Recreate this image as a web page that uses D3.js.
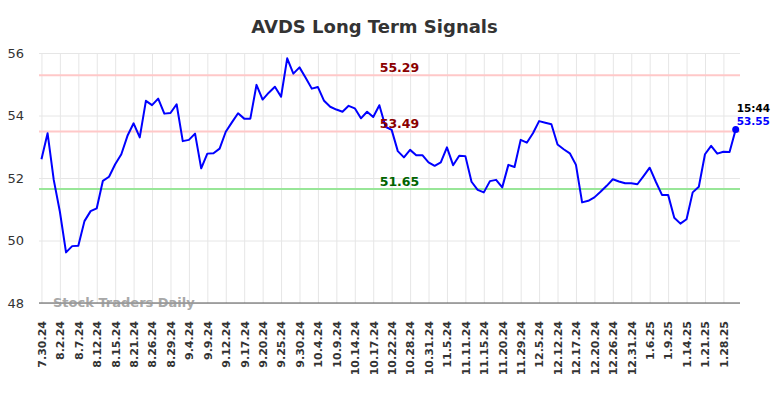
<!DOCTYPE html>
<html>
<head>
<meta charset="utf-8">
<script src="https://cdn.jsdelivr.net/npm/d3@7"></script>
<style>
  body { margin: 0; background: #fff; }
  svg { display: block; font-family: "DejaVu Sans", sans-serif; }
</style>
</head>
<body>
<svg id="chart" width="784" height="398"></svg>
<script>
// closing values, one per trading session
const prices = [
  52.60, 53.43, 51.94, 50.92, 49.62, 49.82, 49.83, 50.62, 50.94, 51.03,
  51.91, 52.04, 52.44, 52.76, 53.35, 53.75, 53.30, 54.47, 54.33, 54.54,
  54.06, 54.08, 54.36, 53.18, 53.22, 53.42, 52.31, 52.78, 52.79, 52.94,
  53.48, 53.78, 54.07, 53.90, 53.90, 54.98, 54.51, 54.73, 54.92, 54.60,
  55.83, 55.34, 55.54, 55.21, 54.86, 54.91, 54.47, 54.28, 54.19, 54.12,
  54.31, 54.23, 53.91, 54.12, 53.95, 54.33, 53.64, 53.54, 52.86, 52.66,
  52.90, 52.73, 52.73, 52.50, 52.39, 52.50, 52.98, 52.41, 52.71, 52.70,
  51.88, 51.62, 51.54, 51.90, 51.94, 51.70, 52.42, 52.35, 53.22, 53.13,
  53.43, 53.82, 53.77, 53.72, 53.07, 52.92, 52.79, 52.42, 51.22, 51.27,
  51.38, 51.56, 51.75, 51.96, 51.89, 51.83, 51.83, 51.80, 52.06, 52.33,
  51.88, 51.46, 51.46, 50.73, 50.54, 50.68, 51.54, 51.72, 52.76, 53.03,
  52.78, 52.84, 52.83, 53.55
];

// a date label every 3rd session
const dateLabels = [
  "7.30.24", "8.2.24", "8.7.24", "8.12.24", "8.15.24", "8.21.24", "8.26.24",
  "8.29.24", "9.4.24", "9.9.24", "9.12.24", "9.17.24", "9.20.24", "9.25.24",
  "9.30.24", "10.4.24", "10.9.24", "10.14.24", "10.17.24", "10.22.24",
  "10.28.24", "10.31.24", "11.5.24", "11.11.24", "11.15.24", "11.20.24",
  "11.29.24", "12.5.24", "12.12.24", "12.17.24", "12.20.24", "12.26.24",
  "12.31.24", "1.6.25", "1.9.25", "1.14.25", "1.21.25", "1.28.25"
];
const labelStep = 3;

const yTicks = [48, 50, 52, 54, 56];

const signalLevels = [55.29, 53.49, 51.65];
const signalKinds = ["high", "high", "low"];

const lastTime = "15:44";

const svg = d3.select("#chart");
const plotLeft = 39, plotRight = 740, plotTop = 53, plotBottom = 303;

const x = d3.scaleLinear().domain([-0.4, prices.length - 0.3]).range([plotLeft, plotRight]);
const y = d3.scaleLinear().domain([48, 56]).range([plotBottom, plotTop]);

// title
svg.append("text")
  .attr("x", 374.5).attr("y", 33)
  .attr("text-anchor", "middle")
  .attr("font-size", 18).attr("font-weight", "bold")
  .attr("fill", "#333")
  .text("AVDS Long Term Signals");

// horizontal grid + y labels
const yAxis = d3.axisLeft(y).tickValues(yTicks).tickSize(-(plotRight - plotLeft)).tickPadding(15);
const gy = svg.append("g").attr("transform", `translate(${plotLeft},0)`).call(yAxis);
gy.select(".domain").remove();
gy.selectAll(".tick line").attr("stroke", "#e6e6e6");
gy.selectAll(".tick text")
  .attr("font-size", 13).attr("fill", "#333")
  .attr("font-family", "DejaVu Sans, sans-serif");

// vertical grid + rotated date labels
const tickIdx = dateLabels.map((d, i) => i * labelStep);
const xAxis = d3.axisBottom(x).tickValues(tickIdx)
  .tickFormat((d, i) => dateLabels[i])
  .tickSize(-(plotBottom - plotTop)).tickPadding(0);
const gx = svg.append("g").attr("transform", `translate(0,${plotBottom})`).call(xAxis);
gx.select(".domain").remove();
gx.selectAll(".tick line").attr("stroke", "#e6e6e6");
gx.selectAll(".tick text")
  .attr("font-size", 11).attr("font-weight", "bold").attr("fill", "#333")
  .attr("font-family", "DejaVu Sans, sans-serif")
  .attr("text-anchor", "end")
  .attr("transform", "rotate(-90)")
  .attr("x", -18).attr("y", 0).attr("dy", "0.35em");

// bottom axis line
svg.append("line")
  .attr("x1", plotLeft).attr("x2", plotRight)
  .attr("y1", plotBottom).attr("y2", plotBottom)
  .attr("stroke", "#555").attr("stroke-width", 1.2);

// watermark
svg.append("text")
  .attr("x", 53).attr("y", 307)
  .attr("font-size", 13).attr("font-weight", "bold")
  .attr("fill", "#999").attr("opacity", 0.85)
  .text("Stock Traders Daily");

// signal levels
const levelLine = { high: "#ffc8c8", low: "#98e698" };
const levelText = { high: "#8b0000", low: "#006400" };
signalLevels.forEach((v, i) => {
  const k = signalKinds[i];
  svg.append("line")
    .attr("x1", plotLeft).attr("x2", plotRight)
    .attr("y1", y(v)).attr("y2", y(v))
    .attr("stroke", levelLine[k]).attr("stroke-width", 2);
});

// price line
const line = d3.line().x((d, i) => x(i)).y(d => y(d));
svg.append("path")
  .datum(prices)
  .attr("fill", "none")
  .attr("stroke", "#0000ff")
  .attr("stroke-width", 2)
  .attr("stroke-linejoin", "round")
  .attr("d", line);

// level labels drawn over the line
signalLevels.forEach((v, i) => {
  const k = signalKinds[i];
  svg.append("text")
    .attr("x", 399.5).attr("y", y(v) - 3)
    .attr("text-anchor", "middle")
    .attr("font-size", 12.5).attr("font-weight", "bold")
    .attr("fill", levelText[k])
    .text(v.toFixed(2));
});

// last point marker + labels
const lastI = prices.length - 1;
const last = prices[lastI];
svg.append("circle")
  .attr("cx", x(lastI)).attr("cy", y(last))
  .attr("r", 3.5).attr("fill", "#0000ff");
svg.append("text")
  .attr("x", x(lastI) + 1).attr("y", 112)
  .attr("font-size", 10.5).attr("font-weight", "bold").attr("fill", "#000")
  .text(lastTime);
svg.append("text")
  .attr("x", x(lastI) + 1).attr("y", 125)
  .attr("font-size", 10.5).attr("font-weight", "bold").attr("fill", "#0000ff")
  .text(last.toFixed(2));
</script>
</body>
</html>
